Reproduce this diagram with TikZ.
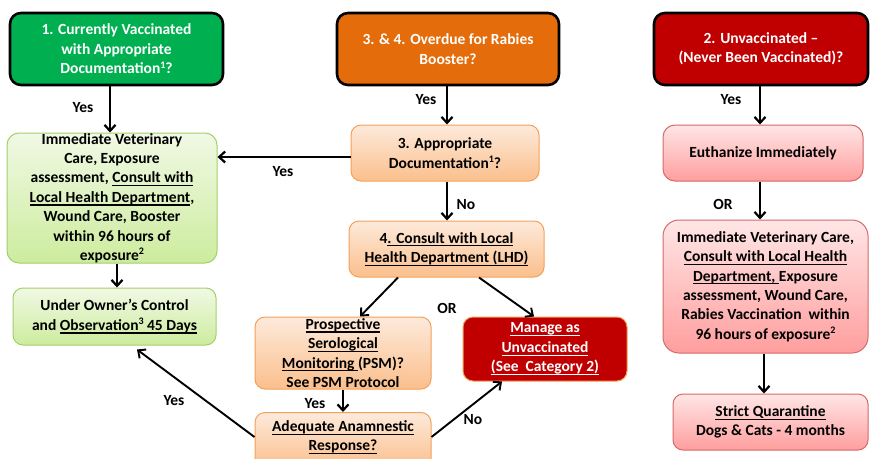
\documentclass[tikz,border=0pt]{standalone}
\usepackage{fontspec}
\setmainfont{Carlito}
\usetikzlibrary{arrows.meta}
% underline: a rule stacked under the text at a fixed depth
\newcommand\undl[1]{\vtop{\hbox{\raisebox{0pt}[\height][0pt]{#1}\vrule depth 2.2pt width 0pt}\hrule height 1.2pt}}
% small raised footnote mark
\newcommand\fnmk[1]{\raisebox{5.5pt}{\fontsize{10}{10}\selectfont #1}}
\definecolor{hdgreen}{HTML}{00B050}
\definecolor{hdorange}{HTML}{E46C0A}
\definecolor{hdred}{HTML}{C00000}
\definecolor{ltgreenA}{HTML}{F0F9E4}
\definecolor{ltgreenB}{HTML}{CDEC9E}
\definecolor{ltgreenL}{HTML}{A5CF6A}
\definecolor{ltorA}{HTML}{FDEADB}
\definecolor{ltorB}{HTML}{FBBF8C}
\definecolor{ltorL}{HTML}{F5A05A}
\definecolor{pinkA}{HTML}{FFE6E6}
\definecolor{pinkB}{HTML}{FF9E9E}
\definecolor{pinkL}{HTML}{D46A68}
\tikzset{
  x=1pt, y=-1pt,
  txt/.style={font=\fontsize{15.5}{19.4}\selectfont\bfseries, align=center, inner sep=0pt},
  head/.style={txt, draw=black, line width=2.6pt, rounded corners=11pt, text=white},
  greenbox/.style={txt, draw=ltgreenL, line width=1pt, rounded corners=12pt, top color=ltgreenA, bottom color=ltgreenB},
  orbox/.style={txt, draw=ltorL, line width=1pt, rounded corners=10pt, top color=ltorA, bottom color=ltorB},
  pinkbox/.style={txt, draw=pinkL, line width=1pt, rounded corners=12pt, top color=pinkA, bottom color=pinkB},
  redbox/.style={txt, draw=ltorL, line width=1pt, rounded corners=10pt, fill=hdred, text=white},
  arr/.style={draw=black, line width=2.4pt, -{Straight Barb[length=6pt,width=11pt,line width=2.2pt]}},
  darr/.style={draw=black, line width=1.9pt, -{Straight Barb[length=6pt,width=11pt,line width=1.9pt]}},
  lbl/.style={font=\fontsize{15.5}{19.4}\selectfont\bfseries, inner sep=0pt},
}
\begin{document}
\begin{tikzpicture}
\useasboundingbox (0,0) rectangle (870,458);
\fill[white] (0,0) rectangle (870,458);

% category headers
\node[head, fill=hdgreen, minimum width=213pt, minimum height=72pt] (cat1) at (116.5,49)
  {1. Currently Vaccinated\\with Appropriate\\Documentation\fnmk{1}?};
\node[head, fill=hdorange, minimum width=222pt, minimum height=72pt] (cat34) at (448,49)
  {3. \& 4. Overdue for Rabies\\Booster?};
\node[head, fill=hdred, minimum width=214pt, minimum height=72pt] (cat2) at (761,49)
  {2. Unvaccinated --\\(Never Been Vaccinated)?};

% left column
\node[greenbox, minimum width=210pt, minimum height=130pt] (care1) at (112,198)
  {Immediate Veterinary\\Care, Exposure\\assessment, \undl{Consult with}\\\undl{Local Health Department},\\Wound Care, Booster\\within 96 hours of\\exposure\fnmk{2}};
\node[greenbox, minimum width=203pt, minimum height=57pt, rounded corners=10pt] (owner) at (114.5,316.5)
  {Under Owner’s Control\\and \undl{Observation\fnmk{3} 45 Days}};

% middle column
\node[orbox, minimum width=188pt, minimum height=56pt] (doc) at (445,153)
  {3. Appropriate\\Documentation\fnmk{1}?};
\node[orbox, minimum width=195pt, minimum height=56pt] (lhd) at (446.5,249)
  {4\undl{. Consult with Local}\\\undl{Health Department (LHD)}};
\node[orbox, minimum width=176pt, minimum height=72pt] (psm) at (343,353)
  {\undl{Prospective}\\\undl{Serological}\\\undl{Monitoring }(PSM)?\\See PSM Protocol};
\node[redbox, minimum width=164pt, minimum height=64pt] (manage) at (545,349)
  {\undl{Manage as}\\\undl{Unvaccinated}\\\undl{(See\ \ Category 2)}};
\node[orbox, minimum width=176pt, minimum height=56pt, anchor=north] (adeq) at (343,412) {};
\node[txt] (adeqtext) at (343,437.5) {\undl{Adequate Anamnestic}\\\undl{Response?}};

% right column
\node[pinkbox, minimum width=200pt, minimum height=56pt] (euth) at (763,153)
  {Euthanize Immediately};
\node[pinkbox, minimum width=205pt, minimum height=133pt, rounded corners=16pt] (care2) at (765.5,286.5)
  {Immediate Veterinary Care,\\\undl{Consult with Local Health}\\\undl{Department, }Exposure\\assessment, Wound Care,\\Rabies Vaccination\ \ within\\96 hours of exposure\fnmk{2}};
\node[pinkbox, minimum width=195pt, minimum height=56pt, rounded corners=10pt] (quar) at (770.5,422)
  {\undl{Strict Quarantine}\\Dogs \& Cats - 4 months};

% connectors
\draw[arr] (cat1.south -| 110,0) -- (care1.north -| 110,0);
\node[lbl] at (83,108) {Yes};
\draw[arr] (cat34.south -| 447,0) -- (doc.north -| 447,0);
\node[lbl] at (426,100) {Yes};
\draw[arr] (cat2.south -| 760,0) -- (euth.north -| 760,0);
\node[lbl] at (731,100) {Yes};

\draw[arr] (doc.west |- 0,157) -- (care1.east |- 0,157);
\node[lbl] at (283,172) {Yes};
\draw[arr] (doc.south -| 447,0) -- (lhd.north -| 447,0);
\node[lbl] at (466,205) {No};
\draw[arr] (care1.south -| 117,0) -- (owner.north -| 117,0);

\draw[darr] (lhd.south -| 398,0) -- (psm.north -| 360,0);
\draw[darr] (lhd.south -| 479,0) -- (manage.north -| 534,0);
\node[lbl] at (447,308) {OR};
\draw[arr] (psm.south -| 343,0) -- (adeq.north -| 343,0);
\node[lbl] at (315,404) {Yes};
\draw[darr] (adeq.east |- 0,437) -- (manage.south -| 502,0);
\node[lbl] at (473,420) {No};
\draw[darr] (adeq.west |- 0,437) -- ([yshift=-4pt]owner.south -| 137,0);
\node[lbl] at (174,401) {Yes};

\draw[arr] (euth.south -| 760,0) -- (care2.north -| 760,0);
\node[lbl] at (723,204) {OR};
\draw[arr] (care2.south -| 764,0) -- (quar.north -| 764,0);
\end{tikzpicture}
\end{document}
